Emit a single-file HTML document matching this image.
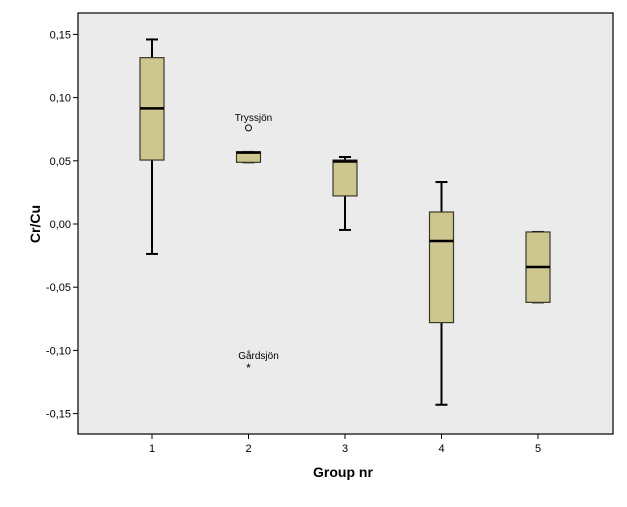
<!DOCTYPE html>
<html><head><meta charset="utf-8"><style>
body{margin:0;background:#fff;}
svg text{font-family:"Liberation Sans",Arial,sans-serif;}
</style></head><body>
<svg id="chart" width="627" height="502" xmlns="http://www.w3.org/2000/svg">
<rect x="78" y="13" width="535" height="421" fill="#ebebeb" stroke="#000" stroke-width="1.2"/>
<g id="axes"></g>
<g id="boxes"></g>
<text x="343" y="477" font-size="14" font-weight="bold" text-anchor="middle">Group nr</text>
<text x="0" y="0" font-size="14" font-weight="bold" text-anchor="middle" transform="translate(40,224) rotate(-90)">Cr/Cu</text>
</svg>
<script>
const categories = ["1","2","3","4","5"];
const whiskerHigh = [0.146, 0.057, 0.053, 0.0332, -0.0063];
const q3 = [0.1316, 0.0572, 0.0506, 0.0095, -0.0063];
const medians = [0.0915, 0.0565, 0.0494, -0.0134, -0.034];
const q1 = [0.0506, 0.0488, 0.0222, -0.078, -0.062];
const whiskerLow = [-0.0237, 0.0488, -0.0047, -0.143, -0.062];
const yTicks = [0.15, 0.10, 0.05, 0.00, -0.05, -0.10, -0.15];
const yTickLabels = ["0,15","0,10","0,05","0,00","-0,05","-0,10","-0,15"];
const outlierGroups = ["2"];
const outlierValues = [0.076];
const outlierLabels = ["Tryssjön"];
const extremeGroups = ["2"];
const extremeValues = [-0.113];
const extremeLabels = ["Gårdsjön"];

const NS="http://www.w3.org/2000/svg";
const y = v => 224 - v*1264;
const x = c => 152 + categories.indexOf(c)*96.5;
function mk(tag, attrs, parent){const e=document.createElementNS(NS,tag);for(const k in attrs)e.setAttribute(k,attrs[k]);parent.appendChild(e);return e;}
const axes=document.getElementById('axes'), boxes=document.getElementById('boxes');
yTicks.forEach((t,i)=>{
  const l=mk('line',{x1:73,x2:78,y1:y(t),y2:y(t),stroke:'#000'},axes);
  
  
  const tx=mk('text',{x:71,y:y(t)+4,'font-size':11,'text-anchor':'end'},axes);
  tx.textContent=yTickLabels[i];
  
  
});
categories.forEach((c,i)=>{
  const cx=x(c);
  const l=mk('line',{x1:cx,x2:cx,y1:434,y2:439,stroke:'#000'},axes);
  
  
  const tx=mk('text',{x:cx,y:452,'font-size':11,'text-anchor':'middle'},axes);
  tx.textContent=c;
  
  
  const g=mk('g',{},boxes);
  
  
  mk('line',{x1:cx,x2:cx,y1:y(whiskerHigh[i]),y2:y(q3[i]),stroke:'#000','stroke-width':2},g);
  mk('line',{x1:cx,x2:cx,y1:y(q1[i]),y2:y(whiskerLow[i]),stroke:'#000','stroke-width':2},g);
  mk('line',{x1:cx-6,x2:cx+6,y1:y(whiskerHigh[i]),y2:y(whiskerHigh[i]),stroke:'#000','stroke-width':2},g);
  mk('line',{x1:cx-6,x2:cx+6,y1:y(whiskerLow[i]),y2:y(whiskerLow[i]),stroke:'#000','stroke-width':2},g);
  mk('rect',{x:cx-12,y:y(q3[i]),width:24,height:Math.max(1,y(q1[i])-y(q3[i])),fill:'#cdc68e',stroke:'#3a3a2a','stroke-width':1.2},g);
  mk('line',{x1:cx-12,x2:cx+12,y1:y(medians[i]),y2:y(medians[i]),stroke:'#000','stroke-width':2.5},g);
});
outlierGroups.forEach((c,i)=>{
  const o=mk('circle',{cx:x(c),cy:y(outlierValues[i]),r:3,fill:'none',stroke:'#000'},boxes);
  
  
  const t=mk('text',{x:x(c)+5,y:y(outlierValues[i])-7,'font-size':10,'text-anchor':'middle'},boxes);
  t.textContent=outlierLabels[i];
  
  
});
extremeGroups.forEach((c,i)=>{
  const o=mk('text',{x:x(c),y:y(extremeValues[i])+5,'font-size':12,'text-anchor':'middle'},boxes);
  o.textContent='*';
  
  
  const t=mk('text',{x:x(c)+10,y:y(extremeValues[i])-8,'font-size':10,'text-anchor':'middle'},boxes);
  t.textContent=extremeLabels[i];
  
  
});
</script>
</body></html>
